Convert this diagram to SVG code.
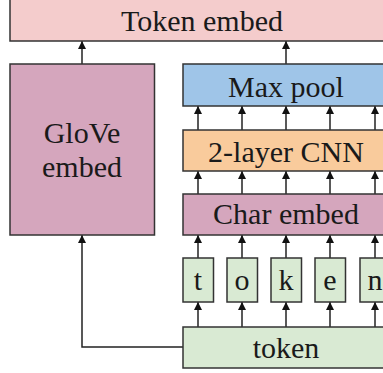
<svg xmlns="http://www.w3.org/2000/svg" width="383" height="373" viewBox="0 0 383 373">
<style>
.box{stroke:#333;stroke-width:1.5}
.t{font-family:"Liberation Serif","DejaVu Serif",serif;font-size:30px;fill:#1a1a1a;text-anchor:middle}
.c{stroke:#222;stroke-width:1.5;fill:none}
</style>
<defs>
<marker id="ah" viewBox="0 0 10 10" refX="10" refY="5" markerWidth="10" markerHeight="8" markerUnits="userSpaceOnUse" orient="auto">
<path d="M0,0 L10,5 L0,10 z" fill="#111"/>
</marker>
</defs>
<g id="connectors">
<path class="c" d="M82,64 V41" marker-end="url(#ah)"/>
<path class="c" d="M286,64 V41" marker-end="url(#ah)"/>
<path class="c" d="M198,130 V106" marker-end="url(#ah)"/>
<path class="c" d="M242,130 V106" marker-end="url(#ah)"/>
<path class="c" d="M286,130 V106" marker-end="url(#ah)"/>
<path class="c" d="M330,130 V106" marker-end="url(#ah)"/>
<path class="c" d="M375,130 V106" marker-end="url(#ah)"/>
<path class="c" d="M198,194 V171" marker-end="url(#ah)"/>
<path class="c" d="M242,194 V171" marker-end="url(#ah)"/>
<path class="c" d="M286,194 V171" marker-end="url(#ah)"/>
<path class="c" d="M330,194 V171" marker-end="url(#ah)"/>
<path class="c" d="M375,194 V171" marker-end="url(#ah)"/>
<path class="c" d="M198,258 V235" marker-end="url(#ah)"/>
<path class="c" d="M242,258 V235" marker-end="url(#ah)"/>
<path class="c" d="M286,258 V235" marker-end="url(#ah)"/>
<path class="c" d="M330,258 V235" marker-end="url(#ah)"/>
<path class="c" d="M375,258 V235" marker-end="url(#ah)"/>
<path class="c" d="M198,327 V302" marker-end="url(#ah)"/>
<path class="c" d="M242,327 V302" marker-end="url(#ah)"/>
<path class="c" d="M286,327 V302" marker-end="url(#ah)"/>
<path class="c" d="M330,327 V302" marker-end="url(#ah)"/>
<path class="c" d="M375,327 V302" marker-end="url(#ah)"/>
<path class="c" d="M183,347 H82 V235" marker-end="url(#ah)"/>
</g>
<g id="token-embed">
<rect class="box" x="10" y="-1" width="384" height="42" fill="#f4cccc"/>
<text class="t" x="202" y="30.5">Token embed</text>
</g>
<g id="glove-embed">
<rect class="box" x="10" y="64" width="144.5" height="171" fill="#d5a6bd"/>
<text class="t" x="82" y="143">GloVe</text>
<text class="t" x="82" y="177">embed</text>
</g>
<g id="max-pool">
<rect class="box" x="183" y="64" width="208" height="42" fill="#9fc5e8"/>
<text class="t" x="286" y="97">Max pool</text>
</g>
<g id="cnn">
<rect class="box" x="183" y="130" width="208" height="41" fill="#f9cb9c"/>
<text class="t" x="286" y="162">2-layer CNN</text>
</g>
<g id="char-embed">
<rect class="box" x="183" y="194" width="208" height="41" fill="#d5a6bd"/>
<text class="t" x="286" y="224">Char embed</text>
</g>
<g id="char-t">
<rect class="box" x="183" y="258" width="30.5" height="44" fill="#d9ead3"/>
<text class="t" x="198" y="290">t</text>
</g>
<g id="char-o">
<rect class="box" x="227" y="258" width="30.5" height="44" fill="#d9ead3"/>
<text class="t" x="242" y="290">o</text>
</g>
<g id="char-k">
<rect class="box" x="271" y="258" width="30.5" height="44" fill="#d9ead3"/>
<text class="t" x="286" y="290">k</text>
</g>
<g id="char-e">
<rect class="box" x="315" y="258" width="30.5" height="44" fill="#d9ead3"/>
<text class="t" x="330" y="290">e</text>
</g>
<g id="char-n">
<rect class="box" x="360" y="258" width="30.5" height="44" fill="#d9ead3"/>
<text class="t" x="375" y="290">n</text>
</g>
<g id="token">
<rect class="box" x="183" y="327" width="208" height="41" fill="#d9ead3"/>
<text class="t" x="286" y="358">token</text>
</g>
</svg>
